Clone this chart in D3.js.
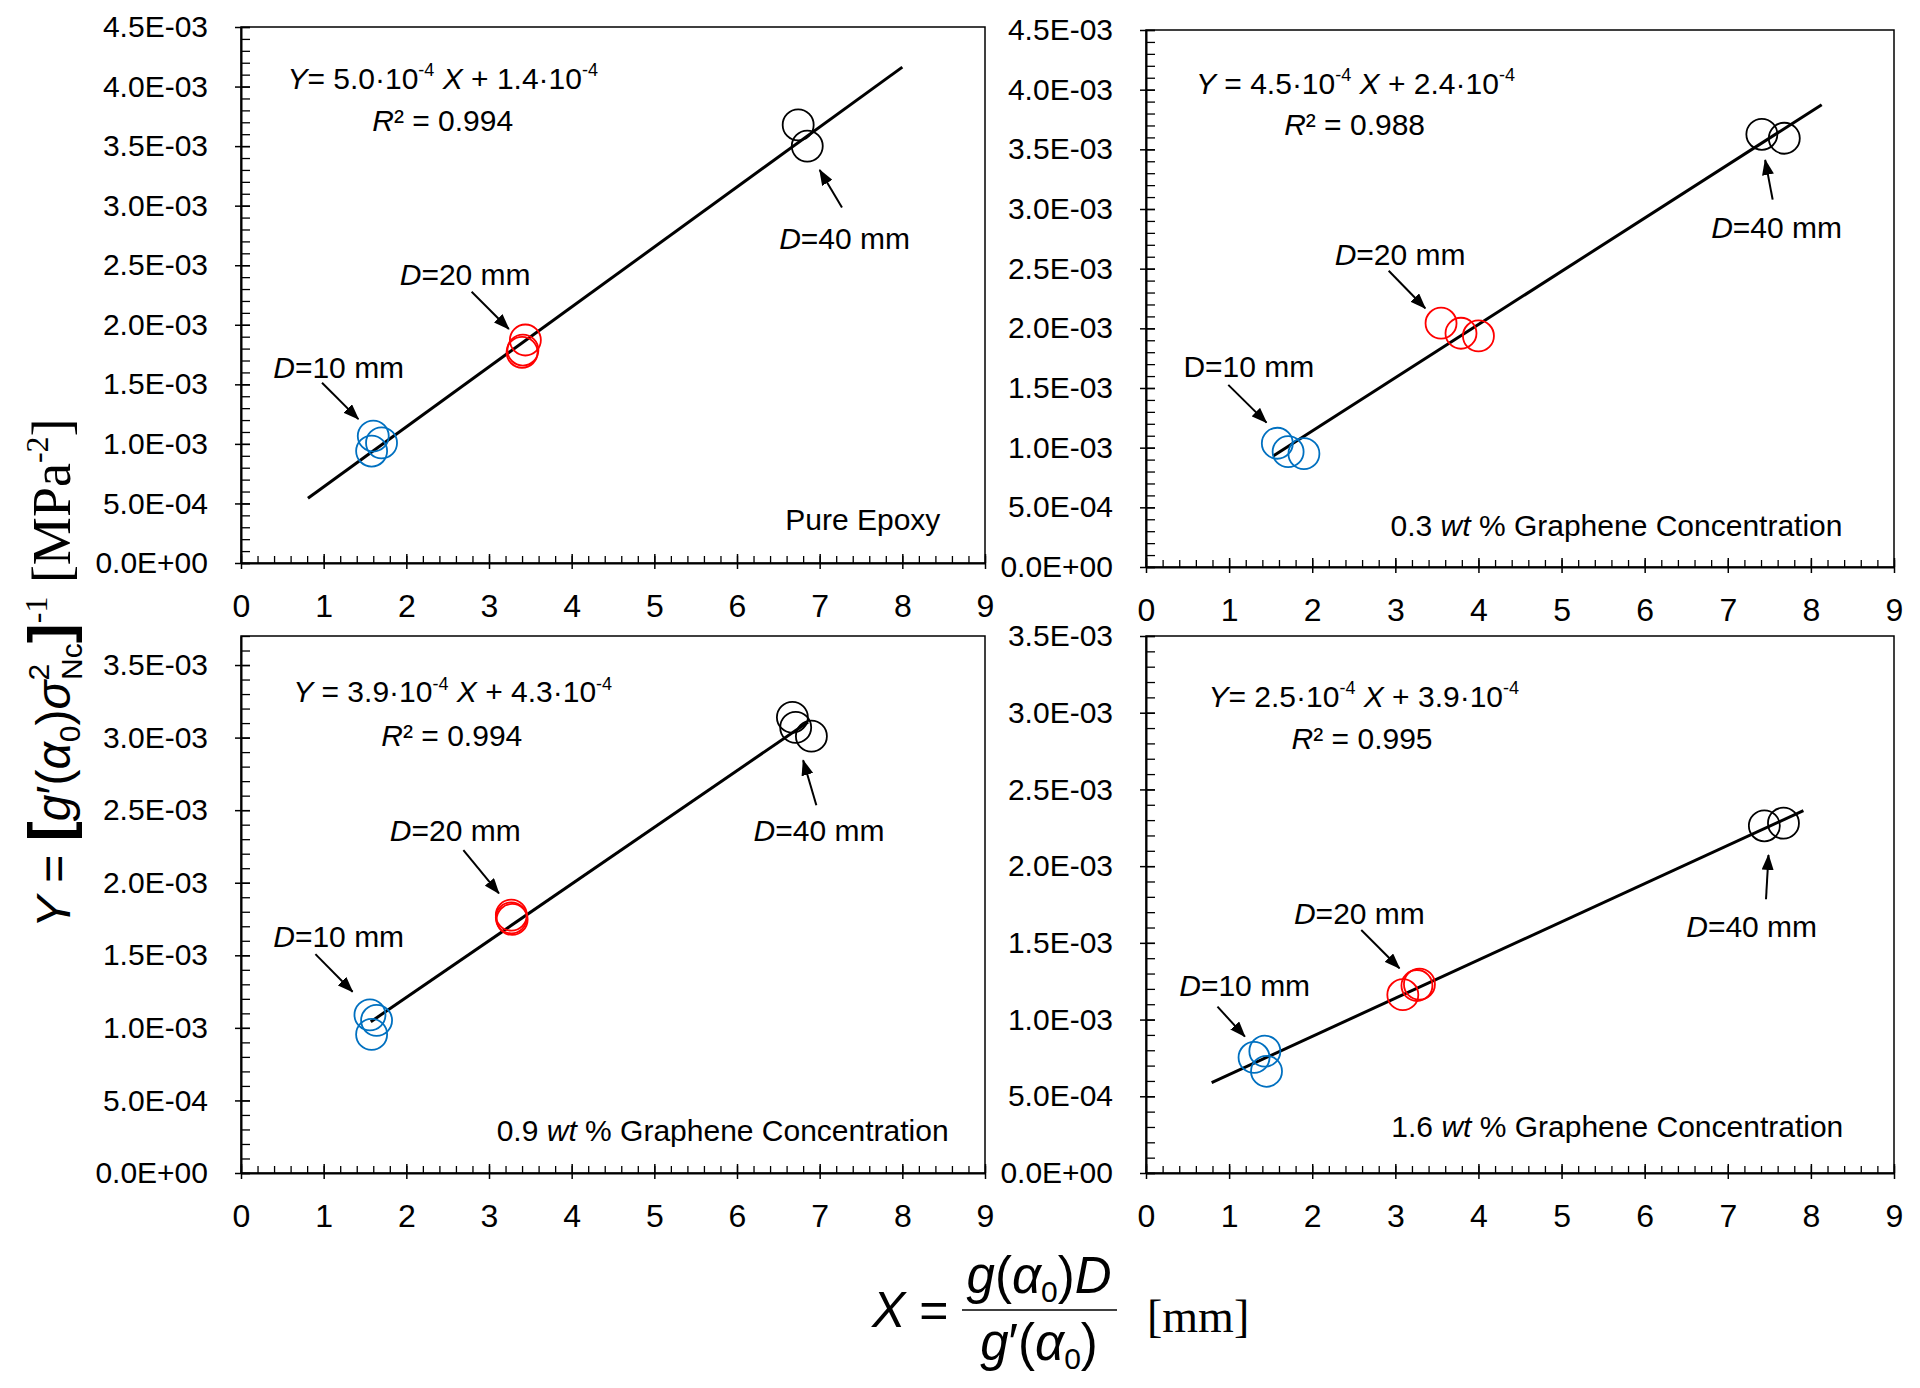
<!DOCTYPE html>
<html>
<head>
<meta charset="utf-8">
<script src="https://cdn.jsdelivr.net/npm/d3@7"></script>
<style>
  body { margin: 0; background: #fff; }
  text { font-family: "Liberation Sans", Arial, sans-serif; fill: #000; }
</style>
</head>
<body>
<svg id="chart"></svg>
<script>
// ---- data ----
const xTicks = [0, 1, 2, 3, 4, 5, 6, 7, 8, 9];
const yTicksUpper = [0, 5e-4, 1e-3, 1.5e-3, 2e-3, 2.5e-3, 3e-3, 3.5e-3, 4e-3, 4.5e-3];
const yTicksLower = [0, 5e-4, 1e-3, 1.5e-3, 2e-3, 2.5e-3, 3e-3, 3.5e-3];

// Pure epoxy
const epoxyD10 = [[1.60, 1.066e-3], [1.70, 1.008e-3], [1.58, 0.940e-3]];
const epoxyD20 = [[3.44, 1.872e-3], [3.40, 1.769e-3], [3.41, 1.788e-3]];
const epoxyD40 = [[6.74, 3.678e-3], [6.85, 3.500e-3]];
const epoxyFit = [[0.81, 0.544e-3], [8.00, 4.163e-3]];

// 0.3 wt %
const g03D10 = [[1.58, 1.037e-3], [1.71, 0.966e-3], [1.90, 0.950e-3]];
const g03D20 = [[3.55, 2.043e-3], [3.79, 1.959e-3], [4.00, 1.936e-3]];
const g03D40 = [[7.41, 3.626e-3], [7.68, 3.593e-3]];
const g03Fit = [[1.53, 0.930e-3], [8.13, 3.874e-3]];

// 0.9 wt %
const g09D10 = [[1.56, 1.090e-3], [1.64, 1.052e-3], [1.58, 0.955e-3]];
const g09D20 = [[3.27, 1.777e-3], [3.27, 1.758e-3], [3.28, 1.747e-3]];
const g09D40 = [[6.67, 3.140e-3], [6.71, 3.070e-3], [6.90, 3.010e-3]];
const g09Fit = [[1.57, 1.042e-3], [6.86, 3.108e-3]];

// 1.6 wt %
const g16D10 = [[1.30, 0.753e-3], [1.43, 0.794e-3], [1.45, 0.663e-3]];
const g16D20 = [[3.09, 1.162e-3], [3.26, 1.222e-3], [3.29, 1.231e-3]];
const g16D40 = [[7.44, 2.263e-3], [7.67, 2.280e-3]];
const g16Fit = [[0.79, 0.589e-3], [7.91, 2.362e-3]];

const fitLabels = [
  { eqSign: '= ', a: '5.0·10', b: '1.4·10', r2: '0.994' },
  { eqSign: ' = ', a: '4.5·10', b: '2.4·10', r2: '0.988' },
  { eqSign: ' = ', a: '3.9·10', b: '4.3·10', r2: '0.994' },
  { eqSign: '= ', a: '2.5·10', b: '3.9·10', r2: '0.995' }
];
const panelNames = ['Pure Epoxy', '0.3', '0.9', '1.6'];

// ---- layout ----
const W = 1920, H = 1388;
const FONT = 30;
const SANS = '"Liberation Sans", Arial, sans-serif';
const SERIF = '"Liberation Serif", "Times New Roman", serif';
const colors = { d10: '#0070C0', d20: '#FF0000', d40: '#000000' };

const panels = [
  { left: 241, right: 985, top: 27, bottom: 563, yMax: 4.5e-3, yTicks: yTicksUpper,
    d10: epoxyD10, d20: epoxyD20, d40: epoxyD40, fit: epoxyFit, lab: fitLabels[0], name: panelNames[0],
    eqAt: [2.44, 3.98e-3], r2At: [2.44, 3.63e-3], nameAt: [8.46, 0.277e-3],
    tags: [ { t: '40', at: [6.51, 2.64e-3], arrow: [[7.27, 2.984e-3], [7.00, 3.30e-3]] },
            { t: '20', at: [1.92, 2.33e-3], arrow: [[2.79, 2.277e-3], [3.24, 1.965e-3]] },
            { t: '10', at: [0.39, 1.557e-3], arrow: [[0.98, 1.513e-3], [1.42, 1.208e-3]] } ] },
  { left: 1146, right: 1894, top: 30, bottom: 567, yMax: 4.5e-3, yTicks: yTicksUpper,
    d10: g03D10, d20: g03D20, d40: g03D40, fit: g03Fit, lab: fitLabels[1], name: panelNames[1],
    eqAt: [2.52, 3.967e-3], r2At: [2.51, 3.62e-3], nameAt: [8.38, 0.262e-3],
    tags: [ { t: '40', at: [6.80, 2.758e-3], arrow: [[7.54, 3.079e-3], [7.45, 3.411e-3]] },
            { t: '20', at: [2.27, 2.532e-3], arrow: [[2.92, 2.482e-3], [3.36, 2.168e-3]] },
            { t: '10', at: [0.45, 1.588e-3], arrow: [[0.99, 1.526e-3], [1.45, 1.21e-3]], upright: true } ] },
  { left: 241, right: 985, top: 636, bottom: 1173, yMax: 3.7e-3, yTicks: yTicksLower,
    d10: g09D10, d20: g09D20, d40: g09D40, fit: g09Fit, lab: fitLabels[2], name: panelNames[2],
    eqAt: [2.56, 3.242e-3], r2At: [2.55, 2.943e-3], nameAt: [8.56, 0.219e-3],
    tags: [ { t: '40', at: [6.20, 2.289e-3], arrow: [[6.96, 2.534e-3], [6.80, 2.844e-3]] },
            { t: '20', at: [1.80, 2.289e-3], arrow: [[2.69, 2.224e-3], [3.12, 1.926e-3]] },
            { t: '10', at: [0.39, 1.559e-3], arrow: [[0.90, 1.508e-3], [1.35, 1.249e-3]] } ] },
  { left: 1146, right: 1894, top: 636, bottom: 1173, yMax: 3.5e-3, yTicks: yTicksLower,
    d10: g16D10, d20: g16D20, d40: g16D40, fit: g16Fit, lab: fitLabels[3], name: panelNames[3],
    eqAt: [2.62, 3.038e-3], r2At: [2.60, 2.762e-3], nameAt: [8.39, 0.233e-3],
    tags: [ { t: '40', at: [6.50, 1.54e-3], arrow: [[7.46, 1.784e-3], [7.49, 2.073e-3]] },
            { t: '20', at: [1.78, 1.623e-3], arrow: [[2.59, 1.584e-3], [3.05, 1.334e-3]] },
            { t: '10', at: [0.40, 1.154e-3], arrow: [[0.86, 1.084e-3], [1.19, 0.889e-3]] } ] }
];

const svg = d3.select('#chart').attr('width', W).attr('height', H);
svg.append('rect').attr('width', W).attr('height', H).attr('fill', '#fff');

svg.append('defs').append('marker')
    .attr('id', 'arrowHead')
    .attr('markerUnits', 'userSpaceOnUse')
    .attr('markerWidth', 16).attr('markerHeight', 12)
    .attr('refX', 15).attr('refY', 6)
    .attr('orient', 'auto')
  .append('path')
    .attr('d', 'M0,0 L16,6 L0,12 Z')
    .attr('fill', '#000');

// 4.5E-03 style labels
const sciFormat = v => {
  if (v === 0) return '0.0E+00';
  const [m, e] = v.toExponential(1).split('e');
  const n = +e;
  return m + 'E' + (n < 0 ? '-' : '+') + String(Math.abs(n)).padStart(2, '0');
};

const drawPanel = p => {
  const x = d3.scaleLinear().domain([0, 9]).range([p.left, p.right]);
  const y = d3.scaleLinear().domain([0, p.yMax]).range([p.bottom, p.top]);
  const g = svg.append('g');

  g.append('rect')
      .attr('x', p.left).attr('y', p.top)
      .attr('width', p.right - p.left).attr('height', p.bottom - p.top)
      .attr('fill', 'none').attr('stroke', '#000').attr('stroke-width', 1.5);

  // minor ticks (inside)
  const yMinor = d3.range(0, p.yMax + 1e-9, 1e-4);
  g.append('g').attr('transform', `translate(${p.left},0)`)
      .call(d3.axisLeft(y).tickValues(yMinor).tickFormat('').tickSize(-9).tickSizeOuter(0))
      .call(a => a.select('.domain').remove())
      .selectAll('line').attr('stroke-width', 1.3);
  const xMinor = d3.range(0, 9.001, 0.2);
  g.append('g').attr('transform', `translate(0,${p.bottom})`)
      .call(d3.axisBottom(x).tickValues(xMinor).tickFormat('').tickSize(-7).tickSizeOuter(0))
      .call(a => a.select('.domain').remove())
      .selectAll('line').attr('stroke-width', 1.3);

  // major ticks + labels
  const yAxisG = g.append('g').attr('transform', `translate(${p.left},0)`)
      .call(d3.axisLeft(y).tickValues(p.yTicks).tickFormat(sciFormat).tickSize(6).tickPadding(27).tickSizeOuter(0));
  yAxisG.select('.domain').attr('stroke-width', 2);
  yAxisG.selectAll('.tick line').attr('x1', 9).attr('stroke-width', 1.5);
  yAxisG.selectAll('.tick text').attr('font-size', FONT);

  const xAxisG = g.append('g').attr('transform', `translate(0,${p.bottom})`)
      .call(d3.axisBottom(x).tickValues(xTicks).tickSize(6).tickPadding(25).tickSizeOuter(0));
  xAxisG.select('.domain').attr('stroke-width', 2);
  xAxisG.selectAll('.tick line').attr('y1', -9).attr('stroke-width', 1.5);
  xAxisG.selectAll('.tick text').attr('font-size', 32);

  // fitted line
  g.append('path')
      .datum(p.fit)
      .attr('d', d3.line().x(d => x(d[0])).y(d => y(d[1])))
      .attr('stroke', '#000').attr('stroke-width', 3).attr('fill', 'none');

  // specimens
  [['d10', p.d10], ['d20', p.d20], ['d40', p.d40]].forEach(([k, pts]) => {
    g.selectAll(null).data(pts).enter().append('circle')
        .attr('cx', d => x(d[0])).attr('cy', d => y(d[1]))
        .attr('r', 15.5)
        .attr('fill', 'none').attr('stroke', colors[k]).attr('stroke-width', 1.8);
  });

  // equation and R2
  const sup = -FONT * 0.42;
  const eq = g.append('text')
      .attr('x', x(p.eqAt[0])).attr('y', y(p.eqAt[1]))
      .attr('text-anchor', 'middle').attr('font-size', FONT);
  eq.append('tspan').attr('font-style', 'italic').text('Y');
  eq.append('tspan').text(p.lab.eqSign + p.lab.a);
  eq.append('tspan').attr('font-size', FONT * 0.6).attr('dy', sup).text('-4');
  eq.append('tspan').attr('dy', -sup).text(' ');
  eq.append('tspan').attr('font-style', 'italic').text('X');
  eq.append('tspan').text(' + ' + p.lab.b);
  eq.append('tspan').attr('font-size', FONT * 0.6).attr('dy', sup).text('-4');

  const r2 = g.append('text')
      .attr('x', x(p.r2At[0])).attr('y', y(p.r2At[1]))
      .attr('text-anchor', 'middle').attr('font-size', FONT);
  r2.append('tspan').attr('font-style', 'italic').text('R');
  r2.append('tspan').text('² = ' + p.lab.r2);

  // diameter tags with arrows
  p.tags.forEach(t => {
    const tx = g.append('text')
        .attr('x', x(t.at[0])).attr('y', y(t.at[1]))
        .attr('font-size', FONT);
    tx.append('tspan').attr('font-style', t.upright ? 'normal' : 'italic').text('D');
    tx.append('tspan').text('=' + t.t + ' mm');
    g.append('line')
        .attr('x1', x(t.arrow[0][0])).attr('y1', y(t.arrow[0][1]))
        .attr('x2', x(t.arrow[1][0])).attr('y2', y(t.arrow[1][1]))
        .attr('stroke', '#000').attr('stroke-width', 2)
        .attr('marker-end', 'url(#arrowHead)');
  });

  // panel caption
  const cap = g.append('text')
      .attr('x', x(p.nameAt[0])).attr('y', y(p.nameAt[1]))
      .attr('text-anchor', 'end').attr('font-size', FONT);
  if (p.name === 'Pure Epoxy') {
    cap.text(p.name);
  } else {
    cap.append('tspan').text(p.name + ' ');
    cap.append('tspan').attr('font-style', 'italic').text('wt');
    cap.append('tspan').text(' % Graphene Concentration');
  }
};

panels.forEach(drawPanel);

// ---- Y axis title (rotated, reads bottom to top) ----
const yt = svg.append('text')
    .attr('transform', 'translate(70,928) rotate(-90)')
    .attr('font-size', 48);
yt.append('tspan').attr('font-style', 'italic').text('Y');
yt.append('tspan').text(' = ');
yt.append('tspan').attr('font-size', 60).attr('font-weight', 'bold').text('[');
yt.append('tspan').attr('font-style', 'italic').text('g');
yt.append('tspan').text('′(');
yt.append('tspan').attr('font-style', 'italic').text('α');
yt.append('tspan').attr('font-size', 30).attr('dy', 10).text('0');
yt.append('tspan').attr('dy', -10).text(')');
yt.append('tspan').attr('font-style', 'italic').text('σ');
yt.append('tspan').attr('font-size', 30).attr('dy', -21).text('2');
yt.append('tspan').attr('font-size', 30).attr('dx', -16).attr('dy', 33).text('Nc');
yt.append('tspan').attr('font-size', 60).attr('font-weight', 'bold').attr('dy', -12).text(']');
yt.append('tspan').attr('font-family', SERIF).attr('font-size', 32).attr('dy', -23).text('-1');
yt.append('tspan').attr('font-family', SERIF).attr('font-size', 54).attr('dy', 23).text(' [MPa');
yt.append('tspan').attr('font-family', SERIF).attr('font-size', 32).attr('dy', -22).text('-2');
yt.append('tspan').attr('font-family', SERIF).attr('font-size', 54).attr('dy', 22).text(']');

// ---- X axis title ----
const xt = svg.append('g');
const xEq = xt.append('text').attr('x', 872).attr('y', 1327).attr('font-size', 50);
xEq.append('tspan').attr('font-style', 'italic').text('X');
xEq.append('tspan').text(' =');
xt.append('line').attr('x1', 962).attr('x2', 1117).attr('y1', 1310).attr('y2', 1310)
    .attr('stroke', '#000').attr('stroke-width', 1.5);
const num = xt.append('text').attr('x', 1039).attr('y', 1293).attr('text-anchor', 'middle').attr('font-size', 51);
num.append('tspan').attr('font-style', 'italic').text('g');
num.append('tspan').text('(');
num.append('tspan').attr('font-style', 'italic').text('α');
num.append('tspan').attr('font-size', 30).attr('dy', 9).text('0');
num.append('tspan').attr('dy', -9).text(')');
num.append('tspan').attr('font-style', 'italic').text('D');
const den = xt.append('text').attr('x', 1039).attr('y', 1360).attr('text-anchor', 'middle').attr('font-size', 51);
den.append('tspan').attr('font-style', 'italic').text('g');
den.append('tspan').text('′(');
den.append('tspan').attr('font-style', 'italic').text('α');
den.append('tspan').attr('font-size', 30).attr('dy', 9).text('0');
den.append('tspan').attr('dy', -9).text(')');
xt.append('text').attr('x', 1147).attr('y', 1332)
    .style('font-family', SERIF).style('font-size', '46px')
    .text('[mm]');
</script>
</body>
</html>
